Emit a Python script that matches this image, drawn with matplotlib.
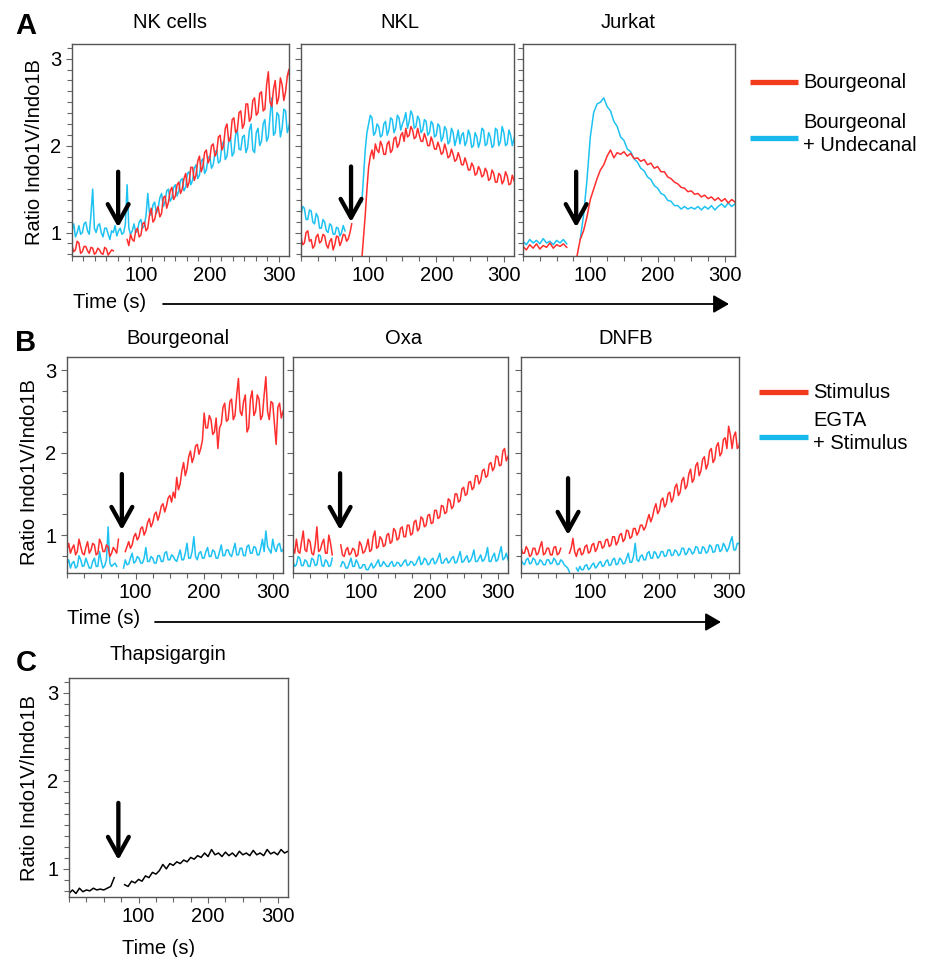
import numpy as np
import matplotlib
matplotlib.use('Agg')
import matplotlib.pyplot as plt
import matplotlib.patches as mpatches
from matplotlib.lines import Line2D
from matplotlib.ticker import MultipleLocator, FixedLocator

plt.rcParams['font.family'] = ['Liberation Sans', 'DejaVu Sans']

nan = np.nan
time_fine = np.arange(0, 320, 2.5)     # 128 samples
time_coarse = np.arange(0, 320, 5)     # 64 samples

# ---------------- Panel A ----------------
nk_bourg = [0.85, 0.78, 0.80, 0.90, 0.88, 0.76, 0.78, 0.84, 0.84, 0.79, 0.76, 0.83, 0.82, 0.75, 0.77, 0.82,
            0.80, 0.76, 0.75, 0.83, 0.81, 0.74, 0.77, 0.80, 0.79, nan, nan, nan, nan, nan, nan, nan,
            0.92, 0.85, 0.98, 0.92, 0.90, 1.02, 1.05, 0.95, 0.97, 1.10, 1.12, 1.02, 1.05, 1.20, 1.28, 1.12,
            1.15, 1.25, 1.30, 1.18, 1.22, 1.40, 1.42, 1.28, 1.35, 1.48, 1.52, 1.38, 1.42, 1.55, 1.58, 1.45,
            1.50, 1.62, 1.68, 1.52, 1.58, 1.75, 1.75, 1.60, 1.66, 1.82, 1.88, 1.70, 1.76, 1.92, 1.95, 1.80,
            1.85, 2.00, 2.02, 1.88, 1.92, 2.10, 2.12, 1.95, 2.00, 2.20, 2.25, 2.05, 2.08, 2.30, 2.32, 2.15,
            2.18, 2.38, 2.40, 2.20, 2.25, 2.48, 2.48, 2.28, 2.32, 2.52, 2.55, 2.35, 2.38, 2.60, 2.62, 2.40,
            2.42, 2.70, 2.85, 2.50, 2.45, 2.65, 2.75, 2.48, 2.55, 2.78, 2.70, 2.52, 2.62, 2.80, 2.88, 2.60]
nk_bourg_und = [1.02, 1.10, 0.95, 1.00, 1.08, 0.98, 1.00, 1.10, 1.12, 1.02, 0.98, 1.20, 1.50, 1.05, 1.00, 1.08,
                1.10, 1.00, 0.95, 1.05, 1.05, 0.98, 0.92, 1.02, 1.00, 1.08, 0.96, 1.02, 1.05, 0.98, 1.00, 1.10,
                1.55, 1.05, 0.98, 1.02, 1.10, 1.00, 1.02, 1.12, 1.15, 1.05, 1.08, 1.20, 1.45, 1.22, 1.20, 1.32,
                1.35, 1.22, 1.28, 1.40, 1.45, 1.30, 1.35, 1.48, 1.50, 1.36, 1.40, 1.52, 1.55, 1.42, 1.48, 1.60,
                1.62, 1.48, 1.52, 1.68, 1.70, 1.55, 1.60, 1.74, 1.78, 1.62, 1.66, 1.82, 1.85, 1.68, 1.72, 1.86,
                1.88, 1.74, 1.78, 1.92, 1.95, 1.80, 1.82, 2.00, 2.05, 1.84, 1.88, 2.05, 2.10, 1.88, 1.92, 2.12,
                2.18, 1.96, 1.95, 2.10, 2.12, 1.92, 1.98, 2.18, 2.25, 1.95, 1.92, 2.15, 2.20, 2.00, 2.05, 2.25,
                2.30, 2.05, 2.10, 2.35, 2.55, 2.12, 2.15, 2.38, 2.35, 2.10, 2.20, 2.42, 2.40, 2.15, 2.22, 2.35]
nkl_bourg = [0.95, 0.86, 0.88, 1.00, 1.02, 0.90, 0.92, 0.82, 0.85, 0.95, 0.98, 0.88, 0.90, 0.98, 0.96, 0.86,
             0.82, 0.90, 0.93, 0.80, 0.86, 0.96, 0.95, 0.85, 0.90, 0.98, 0.97, 0.90, 0.93, 1.00, 1.10, nan,
             nan, nan, nan, nan, 0.70, 0.95, 1.20, 1.50, 1.75, 1.88, 1.95, 1.85, 2.02, 1.95, 1.92, 2.05,
             2.00, 1.90, 1.90, 2.02, 2.05, 1.92, 1.95, 2.08, 2.10, 1.98, 2.02, 2.12, 2.15, 2.05, 2.20, 2.10,
             2.12, 2.22, 2.18, 2.08, 2.10, 2.20, 2.12, 2.05, 2.05, 2.14, 2.08, 2.00, 2.00, 2.10, 2.04, 1.96,
             1.96, 2.04, 1.98, 1.90, 1.92, 2.02, 1.95, 1.86, 1.88, 1.96, 1.90, 1.82, 1.84, 1.92, 1.86, 1.78,
             1.78, 1.86, 1.80, 1.72, 1.72, 1.80, 1.76, 1.66, 1.68, 1.76, 1.72, 1.64, 1.66, 1.74, 1.70, 1.60,
             1.62, 1.72, 1.68, 1.58, 1.58, 1.68, 1.66, 1.56, 1.60, 1.70, 1.65, 1.55, 1.56, 1.66, 1.60, 1.54]
nkl_bourg_und = [1.20, 1.30, 1.28, 1.15, 1.15, 1.26, 1.25, 1.12, 1.10, 1.22, 1.18, 1.05, 1.05, 1.15, 1.12, 1.02,
                 1.00, 1.10, 1.08, 0.98, 0.98, 1.06, 1.05, 0.96, 1.00, 1.08, 1.02, nan, nan, nan, nan, nan,
                 nan, nan, nan, nan, 1.35, 1.65, 1.95, 2.15, 2.25, 2.35, 2.32, 2.12, 2.15, 2.25, 2.22, 2.10,
                 2.12, 2.25, 2.28, 2.12, 2.18, 2.32, 2.30, 2.15, 2.20, 2.35, 2.32, 2.18, 2.25, 2.30, 2.38, 2.20,
                 2.28, 2.40, 2.35, 2.20, 2.22, 2.34, 2.30, 2.15, 2.18, 2.30, 2.28, 2.12, 2.15, 2.28, 2.25, 2.10,
                 2.12, 2.25, 2.22, 2.05, 2.10, 2.22, 2.18, 2.02, 2.05, 2.20, 2.15, 2.00, 2.08, 2.18, 2.02, 2.12,
                 2.15, 2.00, 2.05, 2.18, 2.12, 1.98, 2.00, 2.15, 2.10, 1.98, 2.05, 2.20, 2.18, 2.00, 2.02, 2.15,
                 2.10, 1.98, 2.00, 2.20, 2.18, 2.00, 2.05, 2.22, 2.15, 2.00, 2.02, 2.18, 2.12, 2.00, 2.08, 2.15]
jurkat_bourg = [0.84, 0.80, 0.86, 0.82, 0.87, 0.81, 0.85, 0.83,
                0.88, 0.82, 0.86, 0.84, 0.87, 0.83, nan, nan,
                0.72, 0.92, 1.02, 1.18, 1.38, 1.50, 1.62, 1.72,
                1.78, 1.88, 1.95, 1.86, 1.92, 1.90, 1.93, 1.88,
                1.91, 1.85, 1.86, 1.82, 1.84, 1.78, 1.80, 1.74,
                1.76, 1.70, 1.70, 1.64, 1.62, 1.58, 1.56, 1.52,
                1.51, 1.47, 1.48, 1.44, 1.45, 1.41, 1.43, 1.39,
                1.41, 1.37, 1.40, 1.36, 1.39, 1.34, 1.38, 1.35]
jurkat_bourg_und = [0.90, 0.86, 0.92, 0.88, 0.91, 0.87, 0.93, 0.88,
                    0.90, 0.86, 0.91, 0.88, 0.92, 0.87, nan, nan,
                    nan, 0.92, 1.20, 1.60, 2.10, 2.38, 2.48, 2.50,
                    2.55, 2.45, 2.40, 2.28, 2.22, 2.10, 2.06, 1.96,
                    1.93, 1.85, 1.81, 1.74, 1.71, 1.64, 1.61, 1.54,
                    1.51, 1.45, 1.43, 1.37, 1.36, 1.31, 1.31, 1.27,
                    1.30, 1.27, 1.29, 1.27, 1.30, 1.26, 1.30, 1.27,
                    1.31, 1.26, 1.30, 1.33, 1.29, 1.34, 1.30, 1.33]

# ---------------- Panel B ----------------
bourg_stim = [0.82, 0.90, 0.78, 0.84, 0.88, 0.76, 0.80, 0.95, 0.86, 0.78, 0.76, 0.85, 0.92, 0.78, 0.82, 0.90,
              0.88, 0.76, 0.78, 0.95, 0.90, 0.80, 0.80, 0.88, 0.86, 0.74, 0.78, 0.85, 0.82, 0.78, 0.95, nan,
              nan, nan, 0.80, 0.86, 0.92, 0.84, 0.88, 0.98, 1.02, 0.94, 0.98, 1.08, 1.10, 1.00, 1.05, 1.15,
              1.20, 1.10, 1.15, 1.25, 1.28, 1.18, 1.25, 1.35, 1.38, 1.28, 1.35, 1.45, 1.48, 1.40, 1.52, 1.45,
              1.70, 1.55, 1.62, 1.78, 1.88, 1.72, 1.80, 1.95, 2.02, 1.88, 1.95, 2.08, 2.10, 1.98, 2.05, 2.15,
              2.48, 2.30, 2.30, 2.45, 2.40, 2.22, 2.25, 2.42, 2.05, 2.30, 2.35, 2.55, 2.60, 2.38, 2.40, 2.62,
              2.65, 2.40, 2.45, 2.70, 2.90, 2.50, 2.45, 2.62, 2.70, 2.25, 2.30, 2.65, 2.75, 2.45, 2.50, 2.70,
              2.65, 2.40, 2.45, 2.70, 2.92, 2.50, 2.40, 2.62, 2.60, 2.35, 2.10, 2.55, 2.60, 2.42, 2.50, 2.55]
bourg_egta = [0.65, 0.70, 0.60, 0.66, 0.68, 0.60, 0.62, 0.75, 0.70, 0.62, 0.63, 0.72, 0.66, 0.60, 0.60, 0.68,
              0.72, 0.62, 0.62, 0.80, 0.68, 0.60, 0.63, 0.70, 1.10, 0.66, 0.62, 0.64, 0.66, 0.62, nan, nan,
              nan, 0.60, 0.70, 0.64, 0.65, 0.72, 0.78, 0.66, 0.68, 0.74, 0.72, 0.66, 0.66, 0.72, 0.85, 0.68,
              0.68, 0.74, 0.72, 0.66, 0.66, 0.75, 0.75, 0.68, 0.68, 0.78, 0.80, 0.70, 0.70, 0.76, 0.74, 0.70,
              0.68, 0.75, 0.82, 0.70, 0.70, 0.78, 0.90, 0.72, 0.72, 0.80, 0.98, 0.74, 0.70, 0.78, 0.80, 0.72,
              0.72, 0.80, 0.85, 0.74, 0.74, 0.82, 0.80, 0.72, 0.72, 0.80, 0.88, 0.75, 0.75, 0.82, 0.82, 0.76,
              0.74, 0.82, 0.90, 0.76, 0.76, 0.84, 0.84, 0.75, 0.75, 0.86, 0.88, 0.78, 0.78, 0.86, 0.85, 0.76,
              0.76, 0.84, 0.95, 0.80, 1.05, 0.86, 0.82, 0.78, 0.95, 0.84, 0.80, 0.88, 0.90, 0.80, 0.82, 0.88]
oxa_stim = [0.85, 0.78, 0.95, 0.80, 0.78, 0.92, 1.05, 0.82, 0.80, 0.95, 0.92, 0.78, 0.76, 0.88, 1.10, 0.80,
            0.82, 0.90, 0.95, 0.78, 0.78, 1.00, 0.90, 0.76, nan, nan, nan, nan, 0.88, 0.76, 0.74, 0.82,
            0.85, 0.76, 0.78, 0.84, 0.82, 0.74, 0.76, 0.92, 0.88, 0.78, 0.80, 0.86, 0.95, 0.80, 0.82, 0.98,
            1.05, 0.84, 0.86, 0.98, 0.95, 0.86, 0.88, 1.00, 1.02, 0.90, 0.92, 1.08, 1.05, 0.94, 0.96, 1.08,
            1.10, 0.98, 0.98, 1.12, 1.12, 1.00, 1.02, 1.16, 1.18, 1.05, 1.08, 1.22, 1.20, 1.10, 1.12, 1.24,
            1.25, 1.14, 1.15, 1.30, 1.30, 1.20, 1.22, 1.36, 1.35, 1.26, 1.28, 1.44, 1.42, 1.32, 1.35, 1.50,
            1.50, 1.40, 1.42, 1.56, 1.58, 1.48, 1.50, 1.64, 1.65, 1.55, 1.58, 1.72, 1.72, 1.62, 1.66, 1.78,
            1.80, 1.70, 1.72, 1.86, 1.88, 1.78, 1.82, 1.96, 1.95, 1.84, 1.85, 2.02, 2.05, 1.90, 1.95, 2.00]
oxa_egta = [0.68, 0.62, 0.64, 0.74, 0.72, 0.63, 0.63, 0.70, 0.68, 0.62, 0.62, 0.72, 0.70, 0.63, 0.64, 0.76,
            0.75, 0.63, 0.62, 0.70, 0.68, 0.62, 0.63, 0.72, nan, nan, nan, nan, 0.62, 0.68, 0.66, 0.60,
            0.60, 0.66, 0.72, 0.62, 0.62, 0.70, 0.66, 0.60, 0.60, 0.64, 0.64, 0.58, 0.58, 0.62, 0.66, 0.60,
            0.62, 0.66, 0.70, 0.62, 0.63, 0.68, 0.65, 0.62, 0.62, 0.66, 0.68, 0.62, 0.63, 0.67, 0.66, 0.62,
            0.64, 0.68, 0.70, 0.63, 0.64, 0.68, 0.67, 0.63, 0.65, 0.70, 0.74, 0.64, 0.66, 0.72, 0.70, 0.64,
            0.65, 0.70, 0.72, 0.65, 0.67, 0.72, 0.78, 0.66, 0.66, 0.70, 0.72, 0.66, 0.68, 0.72, 0.74, 0.66,
            0.67, 0.74, 0.80, 0.67, 0.68, 0.72, 0.75, 0.67, 0.69, 0.74, 0.82, 0.68, 0.68, 0.72, 0.76, 0.68,
            0.70, 0.75, 0.85, 0.68, 0.68, 0.74, 0.78, 0.68, 0.70, 0.78, 0.86, 0.70, 0.72, 0.78, 0.70, 0.66]
dnfb_stim = [0.85, 0.78, 0.78, 0.86, 0.82, 0.74, 0.76, 0.84, 0.84, 0.76, 0.78, 0.86, 0.92, 0.76, 0.78, 0.84,
             0.84, 0.76, 0.76, 0.85, 0.86, 0.76, 0.78, 0.84, nan, nan, nan, nan, 0.78, 0.84, 0.96, 0.80,
             0.74, 0.82, 0.84, 0.76, 0.78, 0.86, 0.88, 0.78, 0.80, 0.88, 0.90, 0.80, 0.84, 0.92, 0.92, 0.84,
             0.86, 0.94, 0.95, 0.86, 0.88, 0.98, 0.98, 0.88, 0.92, 1.00, 1.02, 0.92, 0.95, 1.06, 1.05, 0.96,
             0.98, 1.08, 1.08, 1.00, 1.04, 1.12, 1.12, 1.06, 1.10, 1.18, 1.25, 1.16, 1.22, 1.32, 1.38, 1.26,
             1.30, 1.42, 1.45, 1.34, 1.38, 1.50, 1.52, 1.40, 1.45, 1.58, 1.62, 1.48, 1.52, 1.66, 1.70, 1.56,
             1.60, 1.74, 1.80, 1.64, 1.68, 1.84, 1.88, 1.72, 1.78, 1.92, 1.95, 1.80, 1.86, 2.02, 2.05, 1.88,
             1.92, 2.08, 2.12, 1.96, 2.00, 2.16, 2.18, 2.05, 2.32, 2.22, 2.05, 2.20, 2.25, 2.05, 2.08, 2.20]
dnfb_egta = [0.70, 0.66, 0.64, 0.70, 0.72, 0.65, 0.66, 0.72, 0.70, 0.64, 0.65, 0.70, 0.68, 0.64, 0.64, 0.70,
             0.70, 0.65, 0.66, 0.72, 0.69, 0.64, 0.65, 0.70, 0.68, 0.64, 0.62, 0.60, 0.55, nan, nan, nan,
             0.60, 0.56, 0.62, 0.58, 0.58, 0.63, 0.64, 0.58, 0.60, 0.64, 0.66, 0.60, 0.62, 0.66, 0.68, 0.62,
             0.63, 0.68, 0.70, 0.63, 0.64, 0.70, 0.72, 0.64, 0.65, 0.72, 0.70, 0.65, 0.66, 0.72, 0.78, 0.67,
             0.67, 0.74, 0.90, 0.70, 0.68, 0.74, 0.76, 0.70, 0.70, 0.78, 0.80, 0.72, 0.72, 0.80, 0.78, 0.72,
             0.74, 0.80, 0.80, 0.74, 0.75, 0.82, 0.82, 0.75, 0.76, 0.82, 0.80, 0.75, 0.77, 0.84, 0.84, 0.76,
             0.78, 0.84, 0.82, 0.77, 0.79, 0.86, 0.85, 0.78, 0.78, 0.86, 0.84, 0.78, 0.80, 0.88, 0.86, 0.79,
             0.80, 0.88, 0.88, 0.80, 0.82, 0.90, 0.86, 0.80, 0.84, 0.92, 0.98, 0.82, 0.82, 0.90, 0.90, 0.84]

# ---------------- Panel C ----------------
thapsigargin = [0.72, 0.76, 0.72, 0.78, 0.74, 0.76, 0.75, 0.78,
                0.76, 0.77, 0.76, 0.78, 0.80, 0.90, nan, nan,
                0.82, 0.80, 0.86, 0.84, 0.88, 0.86, 0.92, 0.90,
                0.96, 0.94, 0.98, 1.05, 1.00, 1.06, 1.04, 1.08,
                1.06, 1.10, 1.08, 1.13, 1.11, 1.15, 1.13, 1.18,
                1.14, 1.22, 1.16, 1.18, 1.14, 1.19, 1.15, 1.18,
                1.14, 1.20, 1.16, 1.18, 1.15, 1.21, 1.16, 1.18,
                1.15, 1.22, 1.17, 1.19, 1.16, 1.22, 1.18, 1.20]

# stimulus addition times (arrows) per panel
arrow_times = {'NK cells': 67, 'NKL': 74, 'Jurkat': 79,
               'Bourgeonal': 80, 'Oxa': 69, 'DNFB': 68, 'Thapsigargin': 71}

titles_A = ['NK cells', 'NKL', 'Jurkat']
titles_B = ['Bourgeonal', 'Oxa', 'DNFB']
legend_A = ['Bourgeonal', 'Bourgeonal\n+ Undecanal']
legend_B = ['Stimulus', 'EGTA\n+ Stimulus']
y_label = 'Ratio Indo1V/Indo1B'
x_label = 'Time (s)'

RED = '#ff2e2e'
BLUE = '#1ec2f2'
LEG_RED = '#f23a1c'
LEG_BLUE = '#18b8ec'
SPINE = '#555555'

W, H = 933, 957
fig = plt.figure(figsize=(W / 100, H / 100), dpi=100)


def fx(x):
    return x / W


def fy(y):
    return 1 - y / H


def make_ax(left, top, right, bottom, ylim, yminor, xminor, show_ylabels):
    ax = fig.add_axes([fx(left), fy(bottom), (right - left) / W, (bottom - top) / H])
    ax.set_xlim(0, 315)
    ax.set_ylim(*ylim)
    ax.xaxis.set_major_locator(FixedLocator([100, 200, 300]))
    ax.xaxis.set_minor_locator(MultipleLocator(xminor))
    ax.yaxis.set_major_locator(FixedLocator([1, 2, 3]))
    ax.yaxis.set_minor_locator(MultipleLocator(yminor))
    ax.tick_params(which='both', direction='out', color='#666666', width=0.8,
                   labelsize=14.5, pad=3)
    ax.tick_params(which='major', length=4.5)
    ax.tick_params(which='minor', length=3.5)
    if not show_ylabels:
        ax.set_yticklabels([])
    for s in ax.spines.values():
        s.set_color(SPINE)
        s.set_linewidth(1.0)
    return ax


def stim_arrow(ax, t, y_top, y_tip):
    ax.annotate('', xy=(t, y_tip), xytext=(t, y_top),
                arrowprops=dict(arrowstyle='->,head_length=1.35,head_width=0.75',
                                mutation_scale=10, lw=3.1, color='black',
                                shrinkA=0, shrinkB=0), zorder=5)


# ---------- Row A ----------
A_box = [(72, 44, 289, 256), (301, 44, 514, 256), (523, 44, 735, 256)]
A_data = [(time_fine, nk_bourg, nk_bourg_und), (time_fine, nkl_bourg, nkl_bourg_und),
          (time_coarse, jurkat_bourg, jurkat_bourg_und)]
A_minor = [100 / 6, 25, 25]
A_arrow_y = [(1.70, 1.06), (1.76, 1.12), (1.70, 1.06)]
for i, (box, (t, r, b), title) in enumerate(zip(A_box, A_data, titles_A)):
    ax = make_ax(*box, ylim=(0.73, 3.17), yminor=0.125, xminor=A_minor[i],
                 show_ylabels=(i == 0))
    ax.plot(t, b, color=BLUE, lw=1.1)
    ax.plot(t, r, color=RED, lw=1.1)
    stim_arrow(ax, arrow_times[title], *A_arrow_y[i])

# ---------- Row B ----------
B_box = [(67, 357, 283, 573), (293, 357, 508, 573), (521, 357, 739, 573)]
B_data = [(bourg_stim, bourg_egta), (oxa_stim, oxa_egta), (dnfb_stim, dnfb_egta)]
B_arrow_y = [(1.74, 1.06), (1.75, 1.06), (1.69, 1.00)]
for i, (box, (r, b), title) in enumerate(zip(B_box, B_data, titles_B)):
    ax = make_ax(*box, ylim=(0.54, 3.16), yminor=0.25, xminor=25,
                 show_ylabels=(i == 0))
    ax.plot(time_fine, b, color=BLUE, lw=1.1)
    ax.plot(time_fine, r, color=RED, lw=1.1)
    stim_arrow(ax, arrow_times[title], *B_arrow_y[i])

# ---------- Row C ----------
axc = make_ax(69, 678, 288, 897, ylim=(0.68, 3.17), yminor=0.125, xminor=25,
              show_ylabels=True)
axc.plot(time_coarse, thapsigargin, color='black', lw=1.1)
stim_arrow(axc, arrow_times['Thapsigargin'], 1.75, 1.10)

# ---------- Texts ----------
FS = 14.5
for (x, y), s in zip([(170, 23), (400, 23), (628, 23)], titles_A):
    fig.text(fx(x), fy(y), s, ha='center', va='center', fontsize=FS)
for (x, y), s in zip([(178, 339), (404, 339), (626, 339)], titles_B):
    fig.text(fx(x), fy(y), s, ha='center', va='center', fontsize=FS)
fig.text(fx(168), fy(655), 'Thapsigargin', ha='center', va='center', fontsize=FS)

for (x, y), s in zip([(26, 26), (26, 343), (26, 663)], ['A', 'B', 'C']):
    fig.text(fx(x), fy(y), s, ha='center', va='center', fontsize=21,
             fontweight='bold')

for (x, y) in [(35, 152), (30, 472), (30, 788)]:
    fig.text(fx(x), fy(y), y_label, ha='center', va='center', rotation=90,
             fontsize=FS)

fig.text(fx(110), fy(303), x_label, ha='center', va='center', fontsize=FS)
fig.text(fx(104), fy(618), x_label, ha='center', va='center', fontsize=FS)
fig.text(fx(159), fy(948), x_label, ha='center', va='center', fontsize=FS)

for (x0, x1, y) in [(163, 729, 304), (155, 721, 622)]:
    fig.add_artist(mpatches.FancyArrowPatch(
        (fx(x0), fy(y)), (fx(x1), fy(y)), transform=fig.transFigure,
        arrowstyle='-|>,head_length=0.95,head_width=0.55', mutation_scale=10,
        lw=1.3, color='black', shrinkA=0, shrinkB=0))


# ---------- Legends ----------
def legend_entry(x0, x1, y_line, color, label, y_text):
    fig.add_artist(Line2D([fx(x0), fx(x1)], [fy(y_line), fy(y_line)],
                          transform=fig.transFigure, color=color, lw=3.8,
                          solid_capstyle='butt'))
    fig.text(fx(x1 + 5), fy(y_text), label, ha='left', va='center',
             fontsize=FS, linespacing=1.3)


legend_entry(750, 798, 82, LEG_RED, legend_A[0], 82)
legend_entry(750, 798, 138, LEG_BLUE, legend_A[1], 134)
legend_entry(759, 808, 392, LEG_RED, legend_B[0], 392)
legend_entry(759, 808, 437, LEG_BLUE, legend_B[1], 432)

fig.savefig('out.png', dpi=100)
